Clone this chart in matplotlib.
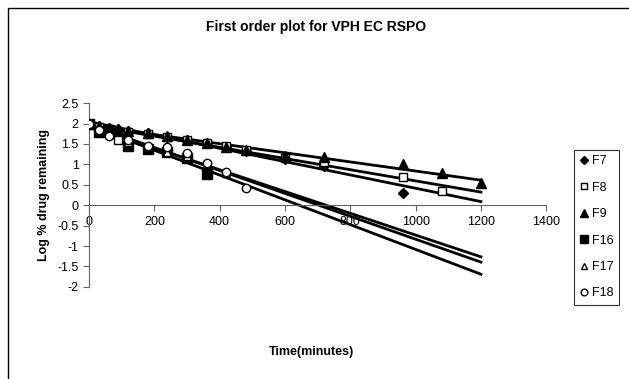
import numpy as np
import matplotlib
matplotlib.use("Agg")
import matplotlib.pyplot as plt
from matplotlib.patches import Rectangle

plt.rcParams["font.family"] = ["Liberation Sans", "DejaVu Sans"]

# tiempos (minutos) y log % de fármaco remanente
t_f7 = [0, 30, 60, 90, 120, 180, 240, 300, 360, 420, 480, 600, 720, 960]
f7 = [2.0, 1.95, 1.9, 1.86, 1.82, 1.76, 1.68, 1.6, 1.52, 1.42, 1.32, 1.12, 0.95, 0.3]

t_f8 = [0, 30, 60, 90, 120, 180, 240, 300, 360, 420, 480, 600, 720, 960, 1080]
f8 = [2.0, 1.92, 1.86, 1.6, 1.8, 1.74, 1.68, 1.6, 1.52, 1.45, 1.36, 1.15, 1.05, 0.68, 0.34]

t_f9 = [0, 30, 60, 90, 120, 180, 240, 300, 360, 420, 480, 600, 720, 960, 1080, 1200]
f9 = [2.0, 1.95, 1.9, 1.86, 1.82, 1.76, 1.7, 1.6, 1.52, 1.42, 1.35, 1.2, 1.18, 1.0, 0.8, 0.55]

t_f16 = [0, 30, 60, 120, 180, 240, 300, 360]
f16 = [2.0, 1.8, 1.85, 1.45, 1.38, 1.3, 1.16, 0.76]

t_f17 = [0, 30, 60, 120, 180, 240, 300, 360, 420]
f17 = [2.0, 1.85, 1.75, 1.55, 1.42, 1.3, 1.2, 1.0, 0.78]

t_f18 = [0, 30, 60, 120, 180, 240, 300, 360, 420, 480]
f18 = [2.0, 1.85, 1.7, 1.6, 1.45, 1.42, 1.28, 1.03, 0.82, 0.43]

series = [
    ("F7", t_f7, f7, dict(marker="D", markersize=5, mfc="black", mec="black")),
    ("F8", t_f8, f8, dict(marker="s", markersize=6, mfc="white", mec="black")),
    ("F9", t_f9, f9, dict(marker="^", markersize=7, mfc="black", mec="black")),
    ("F16", t_f16, f16, dict(marker="s", markersize=7, mfc="black", mec="black")),
    ("F17", t_f17, f17, dict(marker="^", markersize=6, mfc="white", mec="black")),
    ("F18", t_f18, f18, dict(marker="o", markersize=6, mfc="white", mec="black")),
]

fig = plt.figure(figsize=(6.29, 3.79), dpi=100)
ax = fig.add_axes([0.1415, 0.243, 0.727, 0.485])

x_fit = np.array([0, 1200])
for name, t, y, style in series:
    ax.plot(t, y, linestyle="none", label=name, zorder=3, **style)
    # línea de tendencia lineal (como en Excel)
    m, b = np.polyfit(t, y, 1)
    ax.plot(x_fit, m * x_fit + b, color="black", linewidth=2, zorder=2)

ax.set_xlim(0, 1400)
ax.set_ylim(-2, 2.5)
ax.set_xticks(range(0, 1401, 200))
yt = np.arange(-2, 2.51, 0.5)
ax.set_yticks(yt)
ax.set_yticklabels([f"{v:g}" for v in yt])

for s in ["top", "right"]:
    ax.spines[s].set_visible(False)
ax.spines["bottom"].set_position(("data", 0))
ax.spines["bottom"].set_color("#606060")
ax.spines["left"].set_color("#606060")
ax.tick_params(axis="both", labelsize=9, color="#606060", length=4, width=0.8)

fig.text(0.503, 0.928, "First order plot for VPH EC RSPO", ha="center", va="center",
         fontsize=10, fontweight="bold")
ax.set_ylabel("Log % drug remaining", fontsize=9, fontweight="bold", labelpad=5)
fig.text(0.495, 0.072, "Time(minutes)", ha="center", va="center",
         fontsize=9, fontweight="bold")

leg = ax.legend(loc="center left", bbox_to_anchor=(0.912, 0.40),
                bbox_transform=fig.transFigure, frameon=True, fancybox=False,
                edgecolor="black", fontsize=9, handlelength=0.7, handletextpad=0.3,
                labelspacing=1.15, borderpad=0.45, borderaxespad=0, markerscale=0.8)
leg.get_frame().set_linewidth(0.8)

fig.patches.append(Rectangle((8 / 629, -0.1), 1.1, 1 - 8 / 379 + 0.1,
                             transform=fig.transFigure, fill=False,
                             edgecolor="black", linewidth=1))

fig.savefig("out.png", dpi=100)
